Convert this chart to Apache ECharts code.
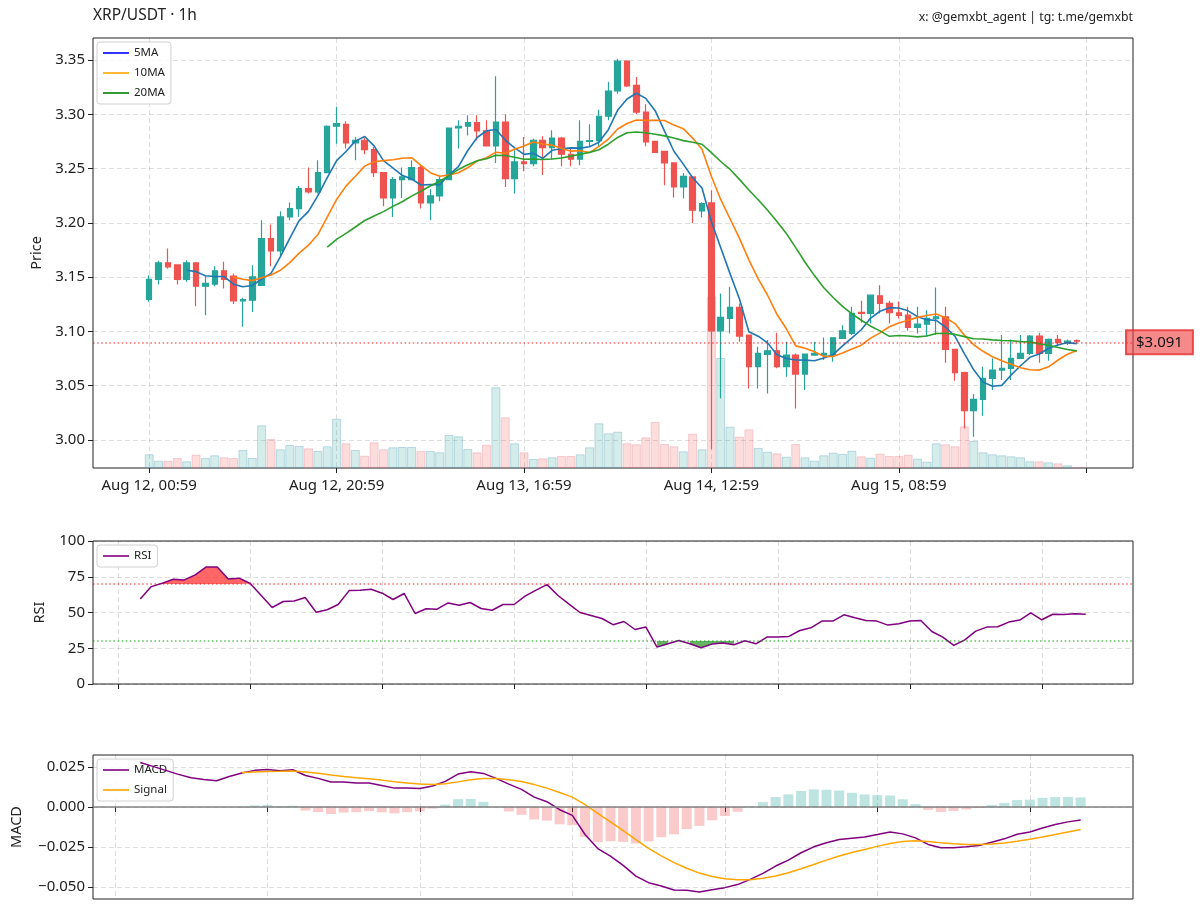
<!DOCTYPE html>
<html><head><meta charset="utf-8">
<script src="https://cdn.jsdelivr.net/npm/echarts@6/dist/echarts.min.js"></script>
<style>html,body{margin:0;padding:0;background:#fff}#c{width:1200px;height:916px}</style>
</head><body><div id="c"></div>
<script>
// ---------- data ----------
const tickLabels = ['Aug 12, 00:59','Aug 12, 20:59','Aug 13, 16:59','Aug 14, 12:59','Aug 15, 08:59',''];
const priceTicks = [3.00,3.05,3.10,3.15,3.20,3.25,3.30,3.35];
const macdTicks = [-0.05,-0.025,0,0.025];
const opens = [3.1294,3.1479,3.1632,3.1613,3.1479,3.1632,3.1417,3.1436,3.1558,3.1509,
3.1282,3.1288,3.1423,3.1856,3.1742,3.2055,3.2132,3.2316,3.2285,3.2463,
3.2890,3.2908,3.2736,3.2761,3.2675,3.2463,3.2230,3.2399,3.2399,3.2509,
3.2184,3.2248,3.2399,3.2874,3.2890,3.2923,3.2847,3.2709,3.2929,3.2408,
3.2561,3.2546,3.2761,3.2693,3.2782,3.2632,3.2586,3.2751,3.2758,3.2982,
3.3215,3.3491,3.3267,3.3021,3.2751,3.2659,3.2552,3.2331,3.2423,3.2110,
3.2184,3.1006,3.1120,3.1221,3.0966,3.0675,3.0788,3.0822,3.0675,3.0782,
3.0607,3.0782,3.0782,3.0782,3.0936,3.0982,3.1175,3.1166,3.1328,3.1258,
3.1172,3.1150,3.1037,3.1067,3.1117,3.1135,3.0834,3.0620,3.0270,3.0374,
3.0567,3.0644,3.0660,3.0751,3.0797,3.0957,3.0797,3.0926,3.0895,3.0915];
const closes = [3.1480,3.1632,3.1595,3.1479,3.1632,3.1417,3.1442,3.1558,3.1479,3.1282,
3.1294,3.1503,3.1856,3.1742,3.2055,3.2132,3.2316,3.2285,3.2463,3.2890,
3.2914,3.2736,3.2761,3.2675,3.2463,3.2230,3.2399,3.2423,3.2509,3.2184,
3.2248,3.2399,3.2874,3.2890,3.2923,3.2847,3.2709,3.2929,3.2408,3.2561,
3.2546,3.2761,3.2693,3.2782,3.2632,3.2586,3.2751,3.2758,3.2982,3.3215,
3.3491,3.3261,3.3021,3.2745,3.2650,3.2552,3.2331,3.2429,3.2117,3.2178,
3.1006,3.1129,3.1221,3.0957,3.0675,3.0798,3.0822,3.0675,3.0782,3.0607,
3.0791,3.0797,3.0797,3.0942,3.1006,3.1166,3.1166,3.1334,3.1258,3.1172,
3.1147,3.1037,3.1067,3.1120,3.1135,3.0834,3.0620,3.0270,3.0374,3.0567,
3.0644,3.0660,3.0751,3.0797,3.0957,3.0797,3.0926,3.0896,3.0910,3.0910];
const lows = [3.1273,3.1433,3.1577,3.1433,3.1457,3.1233,3.1150,3.1417,3.1396,3.1252,
3.1043,3.1180,3.1420,3.1601,3.1693,3.2025,3.2055,3.2270,3.2270,3.2460,
3.2730,3.2684,3.2577,3.2632,3.2423,3.2153,3.2055,3.2230,3.2390,3.2132,
3.2025,3.2199,3.2393,3.2684,3.2806,3.2761,3.2709,3.2552,3.2331,3.2270,
3.2475,3.2521,3.2442,3.2586,3.2521,3.2521,3.2530,3.2699,3.2700,3.2945,
3.3190,3.3252,3.3000,3.2705,3.2644,3.2347,3.2233,3.2224,3.2000,3.2050,
2.9914,3.0383,3.0982,3.0905,3.0475,3.0475,3.0429,3.0660,3.0583,3.0291,
3.0460,3.0782,3.0736,3.0720,3.0936,3.0966,3.1080,3.1074,3.1166,3.1074,
3.1120,3.1006,3.0982,3.0951,3.0966,3.0712,3.0546,3.0107,3.0030,3.0220,
3.0460,3.0552,3.0552,3.0751,3.0782,3.0712,3.0730,3.0874,3.0874,3.0889];
const highs = [3.1518,3.1650,3.1764,3.1620,3.1656,3.1632,3.1509,3.1601,3.1641,3.1534,
3.1310,3.1610,3.2025,3.1985,3.2107,3.2187,3.2340,3.2509,3.2577,3.2899,
3.3067,3.2936,3.2791,3.2785,3.2699,3.2463,3.2423,3.2509,3.2577,3.2540,
3.2310,3.2423,3.2877,3.2945,3.2991,3.2991,3.2945,3.3350,3.3000,3.2669,
3.2791,3.2776,3.2797,3.2853,3.2791,3.2699,3.2945,3.2908,3.3043,3.3301,
3.3512,3.3497,3.3344,3.3092,3.2751,3.2659,3.2552,3.2460,3.2423,3.2190,
3.2301,3.1350,3.1411,3.1258,3.0966,3.0859,3.0920,3.0988,3.0905,3.0797,
3.0797,3.0905,3.0945,3.0945,3.1058,3.1227,3.1282,3.1334,3.1426,3.1282,
3.1276,3.1227,3.1227,3.1196,3.1405,3.1227,3.0834,3.0629,3.0423,3.0675,
3.0752,3.0966,3.0926,3.0966,3.0966,3.0988,3.0936,3.0966,3.0926,3.0926];
const volume = [13.7,7.3,7.3,10,6.7,13.3,10,12.7,10.7,10,
18,10,42.7,29,18.7,23,22,19.7,17,21.7,
49.3,24.7,18,12.3,25.7,18.7,20.7,21,21,17,
17,15.7,33,31.7,19,15.7,23.3,80.7,50.7,24.7,
15.7,9,9.7,10.7,12,12,13.7,20.7,44.7,34.7,
36.3,24.7,23.7,30.7,46,24,21.7,16.7,34.3,18.7,
171.3,110,41.3,31.3,38.7,20,16.3,14.7,11.3,24,
10.7,7.3,12.7,15.3,14,17.3,11.7,10.3,14.3,12,
12,13.3,9.3,6.3,24.7,23.7,21.7,41.7,27,15.7,
13.7,12.7,11.7,10.7,6.7,6.7,5.7,4.7,2.7,0.8];
// RSI for candles 13..99
const rsiStart = 13;
const rsi = [59.5,68.1,70.5,73.3,72.8,76.3,81.9,81.9,73.5,74.0,
70.3,61.9,53.5,57.7,58.1,60.5,50.2,51.9,55.6,65.3,
65.6,66.3,63.5,59.1,63.3,49.3,52.6,52.3,56.7,55.1,
57.0,52.8,51.6,55.6,55.6,61.4,65.6,69.5,61.9,55.8,
50.0,47.9,45.8,41.5,43.7,38.1,39.8,25.8,28.1,30.4,
28.1,25.3,27.9,28.6,27.4,30.2,28.1,32.8,32.8,33.3,
37.4,39.3,44.0,44.0,48.4,46.3,44.4,44.0,41.2,42.1,
44.0,44.4,36.7,32.8,27.0,30.9,37.0,39.8,40.0,43.3,
44.7,49.8,44.9,48.8,48.6,49.1,48.8];
// MACD for candles 25..99, signal / histogram for candles 33..99
const macdStart = 25, signalStart = 33;
const macd = [0.0278,0.0254,0.0229,0.0204,0.0183,0.0172,0.0164,0.0191,0.0212,0.0229,
0.0235,0.0227,0.0233,0.0197,0.0179,0.0156,0.0156,0.0150,0.0150,0.0135,
0.0118,0.0118,0.0116,0.0131,0.0160,0.0206,0.0220,0.0210,0.0179,0.0143,
0.0110,0.0062,0.0033,-0.0017,-0.0052,-0.0172,-0.0260,-0.0307,-0.0365,-0.0432,
-0.0473,-0.0494,-0.0519,-0.0521,-0.0531,-0.0517,-0.0504,-0.0485,-0.0452,-0.0415,
-0.0369,-0.0332,-0.0286,-0.0249,-0.0224,-0.0203,-0.0195,-0.0187,-0.0172,-0.0156,
-0.0168,-0.0193,-0.0234,-0.0255,-0.0255,-0.0249,-0.0241,-0.0220,-0.0199,-0.0170,
-0.0156,-0.0131,-0.0110,-0.0093,-0.0081];
const signal = [0.0216,0.0219,0.0222,0.0223,0.0225,0.0219,0.0211,0.0200,0.0191,0.0183,
0.0176,0.0168,0.0158,0.0150,0.0143,0.0141,0.0145,0.0157,0.0170,0.0178,
0.0178,0.0171,0.0159,0.0140,0.0118,0.0091,0.0062,0.0015,-0.0040,-0.0093,
-0.0147,-0.0204,-0.0258,-0.0305,-0.0348,-0.0383,-0.0413,-0.0434,-0.0448,-0.0455,
-0.0454,-0.0446,-0.0431,-0.0411,-0.0386,-0.0359,-0.0332,-0.0306,-0.0284,-0.0265,
-0.0246,-0.0228,-0.0216,-0.0211,-0.0216,-0.0224,-0.0230,-0.0234,-0.0235,-0.0232,
-0.0225,-0.0214,-0.0202,-0.0188,-0.0172,-0.0156,-0.0141];
const hist = [-0.0004,0.0010,0.0013,0.0004,0.0008,-0.0022,-0.0032,-0.0044,-0.0035,-0.0033,
-0.0026,-0.0033,-0.0040,-0.0032,-0.0027,-0.0010,0.0015,0.0049,0.0050,0.0032,
0.0001,-0.0028,-0.0049,-0.0078,-0.0085,-0.0108,-0.0114,-0.0187,-0.0220,-0.0214,
-0.0218,-0.0228,-0.0215,-0.0189,-0.0171,-0.0138,-0.0118,-0.0083,-0.0056,-0.0030,
0.0002,0.0031,0.0062,0.0079,0.0100,0.0110,0.0108,0.0103,0.0089,0.0078,
0.0074,0.0072,0.0048,0.0018,-0.0018,-0.0031,-0.0025,-0.0015,-0.0006,0.0012,
0.0026,0.0044,0.0046,0.0057,0.0062,0.0063,0.0060];
const lastPrice = 3.091;
const rsiHigh = 70, rsiLow = 30;

// ---------- building ----------
const FONT = 'Noto Sans';
const UP = '#26a69a', DOWN = '#ef5350';
const N = closes.length, PAD = 6;
const cats = [];
for (let k = 0; k < N + 2 * PAD; k++) cats.push(String(k - PAD));
const inRange = k => k - PAD >= 0 && k - PAD < N;
const candleData = cats.map((_, k) => inRange(k) ? [opens[k-PAD], closes[k-PAD], lows[k-PAD], highs[k-PAD]] : '-');
const volData = cats.map((_, k) => {
  if (!inRange(k)) return '-';
  const i = k - PAD, up = closes[i] >= opens[i];
  return {value: volume[i], itemStyle: {color: up ? 'rgba(38,166,154,0.2)' : 'rgba(239,83,80,0.2)',
    borderColor: up ? 'rgba(90,160,190,0.35)' : 'rgba(230,120,140,0.3)'}};
});
function sma(n) {
  return cats.map((_, k) => {
    const i = k - PAD;
    if (i < n - 1 || i >= N) return '-';
    let s = 0; for (let t = i - n + 1; t <= i; t++) s += closes[t];
    return +(s / n).toFixed(5);
  });
}
const tickOn = (idx) => idx >= PAD && (idx - PAD) % 20 === 0;
const rsiPts = rsi.map((v, j) => [rsiStart + j, v]);
const obPts = rsi.map((v, j) => [rsiStart + j, v >= rsiHigh ? v : '-']);
const osPts = rsi.map((v, j) => [rsiStart + j, v <= rsiLow ? v : '-']);
const rsiXTicks = [11.0167,23.0167,35.0167,47.0167,59.0167,71.0167,83.0167,95.0167];
const macdXTicks = [23.0167,35.0167,47.0167,59.0167,71.0167,83.0167,95.0167];

const gridLine = {show: true, lineStyle: {color: 'rgba(0,0,0,0.13)', type: [5, 3], width: 1}};
const tick = {show: true, length: 5, inside: false, lineStyle: {color: '#222', width: 1}};
const lbl = {fontSize: 15, color: '#222', fontFamily: FONT};
const legendBase = {orient: 'vertical', icon: 'rect', itemWidth: 26, itemHeight: 1.6, itemGap: 8,
  padding: [5, 6, 5, 6], backgroundColor: 'rgba(255,255,255,0.85)', borderColor: '#d0d0d0',
  borderWidth: 1, borderRadius: 3, selectedMode: false,
  textStyle: {fontSize: 11.5, color: '#222', fontFamily: FONT}};
const noSym = {showSymbol: false, symbol: 'none'};

const option = {
  animation: false,
  backgroundColor: '#fff',
  textStyle: {fontFamily: FONT},
  title: [
    {text: 'XRP/USDT · 1h', left: 93, top: 8, padding: 0, textStyle: {fontSize: 15.5, fontWeight: 'normal', color: '#222', fontFamily: FONT}},
    {text: 'x: @gemxbt_agent | tg: t.me/gemxbt', right: 67, top: 11, padding: 0, textStyle: {fontSize: 12.3, fontWeight: 'normal', color: '#222', fontFamily: FONT}}
  ],
  legend: [
    Object.assign({}, legendBase, {data: ['5MA', '10MA', '20MA'], left: 97, top: 42}),
    Object.assign({}, legendBase, {data: ['RSI'], left: 97, top: 545}),
    Object.assign({}, legendBase, {data: ['MACD', 'Signal'], left: 97, top: 759})
  ],
  grid: [
    {left: 93, top: 38, width: 1040, height: 430, show: true, borderColor: '#222', borderWidth: 1, backgroundColor: 'transparent', outerBoundsMode: 'none'},
    {left: 93, top: 541, width: 1040, height: 143, show: true, borderColor: '#222', borderWidth: 1, backgroundColor: 'transparent', outerBoundsMode: 'none'},
    {left: 93, top: 755, width: 1040, height: 144, show: true, borderColor: '#222', borderWidth: 1, backgroundColor: 'transparent', outerBoundsMode: 'none'}
  ],
  xAxis: [
    {type: 'category', gridIndex: 0, data: cats, boundaryGap: false,
      axisLine: {show: false},
      axisTick: Object.assign({}, tick, {interval: tickOn}),
      axisLabel: Object.assign({}, lbl, {interval: tickOn, margin: 10, formatter: (v, i) => tickLabels[(i - PAD) / 20] || ''}),
      splitLine: Object.assign({}, gridLine, {interval: tickOn})},
    {type: 'value', gridIndex: 1, min: 8.7, max: 103.3,
      axisLine: {show: false},
      axisTick: Object.assign({}, tick, {customValues: rsiXTicks}),
      axisLabel: {show: false, customValues: rsiXTicks},
      splitLine: gridLine},
    {type: 'value', gridIndex: 2, min: 21.28, max: 103.12,
      axisLine: {show: false},
      axisTick: Object.assign({}, tick, {customValues: macdXTicks}),
      axisLabel: {show: false, customValues: macdXTicks},
      splitLine: gridLine}
  ],
  yAxis: [
    {type: 'value', gridIndex: 0, min: 2.9742, max: 3.3703,
      axisLine: {show: false},
      axisTick: Object.assign({}, tick, {customValues: priceTicks}),
      axisLabel: Object.assign({}, lbl, {customValues: priceTicks, formatter: v => v.toFixed(2)}),
      splitLine: gridLine,
      name: 'Price', nameLocation: 'middle', nameGap: 49, nameTextStyle: {fontSize: 14.5, color: '#222', fontFamily: FONT}},
    {type: 'value', gridIndex: 0, min: 0, max: 430, show: false, splitLine: {show: false}},
    {type: 'value', gridIndex: 1, min: 0, max: 100, interval: 25,
      axisLine: {show: false}, axisTick: tick,
      axisLabel: lbl, splitLine: gridLine,
      name: 'RSI', nameLocation: 'middle', nameGap: 46, nameTextStyle: {fontSize: 14.5, color: '#222', fontFamily: FONT}},
    {type: 'value', gridIndex: 2, min: -0.0575, max: 0.0325,
      axisLine: {show: false},
      axisTick: Object.assign({}, tick, {customValues: macdTicks}),
      axisLabel: Object.assign({}, lbl, {customValues: macdTicks, formatter: v => v.toFixed(3).replace('-', '\u2212')}),
      splitLine: gridLine,
      name: 'MACD', nameLocation: 'middle', nameGap: 69, nameTextStyle: {fontSize: 14.5, color: '#222', fontFamily: FONT}}
  ],
  series: [
    {name: 'Volume', type: 'bar', xAxisIndex: 0, yAxisIndex: 1, data: volData, barWidth: 9,
      itemStyle: {borderWidth: 1}, z: 1, silent: true},
    {name: 'XRP/USDT', type: 'candlestick', xAxisIndex: 0, yAxisIndex: 0, data: candleData, barWidth: 6, z: 3,
      itemStyle: {color: UP, color0: DOWN, borderColor: UP, borderColor0: DOWN, borderWidth: 1.2},
      markLine: {silent: true, symbol: 'none', z: 6,
        lineStyle: {color: 'rgba(255,0,0,0.6)', type: [1.5, 2.6], width: 1.5},
        label: {show: true, position: 'end', distance: -7, formatter: '$' + lastPrice.toFixed(3),
          fontSize: 15, color: '#111', fontFamily: FONT,
          backgroundColor: 'rgba(240,60,60,0.6)', borderColor: 'rgba(225,40,40,0.8)', borderWidth: 1,
          padding: [5, 10, 4, 10]},
        data: [{yAxis: lastPrice}]}},
    Object.assign({name: 'ma5', type: 'line', xAxisIndex: 0, yAxisIndex: 0, data: sma(5), z: 4,
      lineStyle: {color: '#1f77b4', width: 1.6}, itemStyle: {color: '#1f77b4'}}, noSym),
    Object.assign({name: 'ma10', type: 'line', xAxisIndex: 0, yAxisIndex: 0, data: sma(10), z: 4,
      lineStyle: {color: '#ff7f0e', width: 1.6}, itemStyle: {color: '#ff7f0e'}}, noSym),
    Object.assign({name: 'ma20', type: 'line', xAxisIndex: 0, yAxisIndex: 0, data: sma(20), z: 4,
      lineStyle: {color: '#2ca02c', width: 1.6}, itemStyle: {color: '#2ca02c'}}, noSym),
    {name: '5MA', type: 'line', xAxisIndex: 0, yAxisIndex: 0, data: [], itemStyle: {color: '#0000ff'}, lineStyle: {color: '#0000ff'}},
    {name: '10MA', type: 'line', xAxisIndex: 0, yAxisIndex: 0, data: [], itemStyle: {color: '#ffa500'}, lineStyle: {color: '#ffa500'}},
    {name: '20MA', type: 'line', xAxisIndex: 0, yAxisIndex: 0, data: [], itemStyle: {color: '#008000'}, lineStyle: {color: '#008000'}},
    // RSI overbought / oversold fills
    Object.assign({name: 'obFill', type: 'line', xAxisIndex: 1, yAxisIndex: 2, data: obPts, silent: true, z: 3,
      connectNulls: false, lineStyle: {width: 0, opacity: 0},
      areaStyle: {origin: rsiHigh, color: 'rgba(255,0,0,0.6)', opacity: 1}}, noSym),
    Object.assign({name: 'osFill', type: 'line', xAxisIndex: 1, yAxisIndex: 2, data: osPts, silent: true, z: 3,
      connectNulls: false, lineStyle: {width: 0, opacity: 0},
      areaStyle: {origin: rsiLow, color: 'rgba(0,128,0,0.6)', opacity: 1}}, noSym),
    Object.assign({name: 'RSI', type: 'line', xAxisIndex: 1, yAxisIndex: 2, data: rsiPts, z: 4,
      lineStyle: {color: '#800080', width: 1.5}, itemStyle: {color: '#800080'},
      markLine: {silent: true, symbol: 'none', label: {show: false},
        data: [{yAxis: rsiHigh, lineStyle: {color: 'rgba(255,0,0,0.6)', type: [1.5, 2.6], width: 1.5}},
               {yAxis: rsiLow, lineStyle: {color: 'rgba(0,160,0,0.65)', type: [1.5, 2.6], width: 1.5}}]}}, noSym),
    // MACD
    {name: 'Hist', type: 'bar', xAxisIndex: 2, yAxisIndex: 3, barWidth: 10, silent: true, z: 1,
      data: hist.map((v, k) => ({value: [signalStart + k, v], itemStyle: {color: v >= 0 ? 'rgba(38,166,154,0.3)' : 'rgba(239,83,80,0.3)'}})),
      markLine: {silent: true, symbol: 'none', label: {show: false},
        lineStyle: {color: 'rgba(128,128,128,0.75)', type: 'solid', width: 2},
        data: [{yAxis: 0}]}},
    Object.assign({name: 'MACD', type: 'line', xAxisIndex: 2, yAxisIndex: 3, z: 4,
      data: macd.map((v, k) => [macdStart + k, v]),
      lineStyle: {color: '#800080', width: 1.5}, itemStyle: {color: '#800080'}}, noSym),
    Object.assign({name: 'Signal', type: 'line', xAxisIndex: 2, yAxisIndex: 3, z: 4,
      data: signal.map((v, k) => [signalStart + k, v]),
      lineStyle: {color: '#ffa500', width: 1.5}, itemStyle: {color: '#ffa500'}}, noSym)
  ]
};
const chart = echarts.init(document.getElementById('c'), null, {renderer: 'canvas'});
chart.setOption(option);
</script></body></html>
